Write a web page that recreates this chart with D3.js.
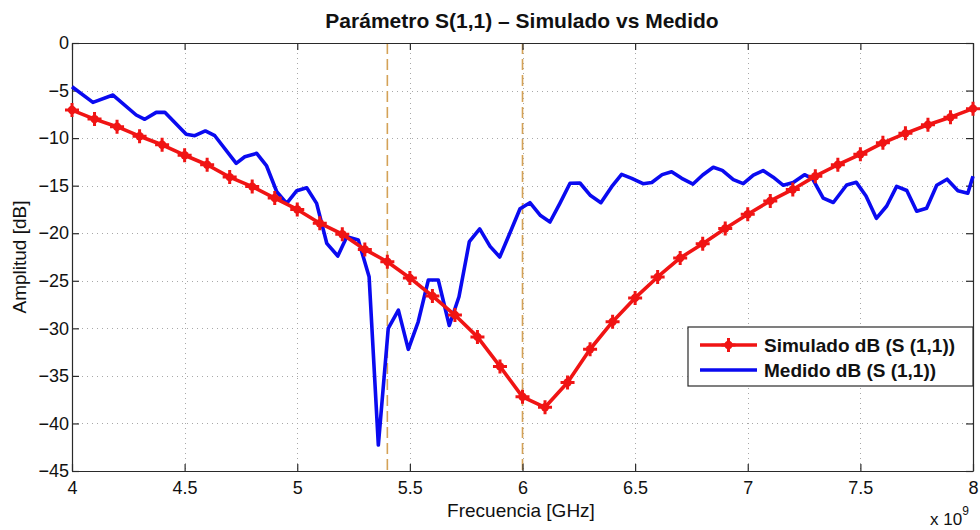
<!DOCTYPE html>
<html>
<head>
<meta charset="utf-8">
<script src="https://cdn.jsdelivr.net/npm/d3@7"></script>
<style>
  html, body { margin: 0; padding: 0; background: #fff; }
  svg { display: block; font-family: "Liberation Sans", Arial, Helvetica, sans-serif; }
</style>
</head>
<body>
<svg id="chart" width="980" height="530"></svg>
<script>
// ---------------- DATA ----------------
const title = "Parámetro S(1,1) – Simulado vs Medido";
const xLabel = "Frecuencia [GHz]";
const yLabel = "Amplitud [dB]";
const seriesNames = ["Simulado dB (S (1,1))", "Medido dB (S (1,1))"];

const xTicks = [4, 4.5, 5, 5.5, 6, 6.5, 7, 7.5, 8];
const xTickLabels = ["4", "4.5", "5", "5.5", "6", "6.5", "7", "7.5", "8"];
const yTicks = [0, -5, -10, -15, -20, -25, -30, -35, -40, -45];
const yTickLabels = ["0", "\u22125", "\u221210", "\u221215", "\u221220", "\u221225", "\u221230", "\u221235", "\u221240", "\u221245"];
const markerLines = [5.4, 6.0];

// Simulated (GHz)
const simFreq = [4.0, 4.1, 4.2, 4.3, 4.4, 4.5, 4.6, 4.7, 4.8, 4.9,
                 5.0, 5.1, 5.2, 5.3, 5.4, 5.5, 5.6, 5.7, 5.8, 5.9,
                 6.0, 6.1, 6.2, 6.3, 6.4, 6.5, 6.6, 6.7, 6.8, 6.9,
                 7.0, 7.1, 7.2, 7.3, 7.4, 7.5, 7.6, 7.7, 7.8, 7.9, 8.0];
const simDb = [-7.05, -8.0, -8.8, -9.8, -10.7, -11.8, -12.8, -14.1, -15.1, -16.3,
               -17.5, -18.95, -20.1, -21.7, -23.0, -24.7, -26.6, -28.6, -30.9, -34.0,
               -37.2, -38.3, -35.7, -32.2, -29.3, -26.8, -24.6, -22.6, -21.1, -19.5,
               -18.0, -16.6, -15.4, -14.0, -12.8, -11.7, -10.5, -9.5, -8.6, -7.8, -6.9];

// Measured (GHz)
const measFreq = [4.000, 4.093, 4.182, 4.285, 4.323, 4.374, 4.412, 4.507, 4.545, 4.592,
                  4.634, 4.729, 4.767, 4.820, 4.864, 4.909, 4.953, 4.998, 5.042, 5.086,
                  5.131, 5.180, 5.220, 5.271, 5.319, 5.360, 5.404, 5.449, 5.493, 5.537,
                  5.582, 5.626, 5.675, 5.718, 5.764, 5.810, 5.856, 5.899, 5.945, 5.989,
                  6.033, 6.080, 6.122, 6.166, 6.211, 6.255, 6.302, 6.348, 6.396, 6.440,
                  6.485, 6.535, 6.574, 6.620, 6.662, 6.707, 6.757, 6.800, 6.847, 6.887,
                  6.936, 6.980, 7.025, 7.068, 7.113, 7.158, 7.202, 7.252, 7.288, 7.335,
                  7.380, 7.439, 7.482, 7.525, 7.571, 7.617, 7.661, 7.706, 7.750, 7.794,
                  7.839, 7.885, 7.933, 7.977, 8.000];
const measDb = [-4.60, -6.24, -5.47, -7.57, -8.02, -7.29, -7.29, -9.60, -9.75, -9.25,
                -9.75, -12.65, -11.96, -11.60, -12.93, -15.64, -16.86, -15.53, -15.22, -16.86,
                -21.06, -22.40, -20.37, -20.71, -24.57, -42.27, -30.00, -28.08, -32.21, -29.31,
                -24.92, -24.92, -29.70, -26.68, -20.89, -19.54, -21.38, -22.50, -19.93, -17.43,
                -16.79, -18.14, -18.82, -16.86, -14.75, -14.72, -16.04, -16.79, -15.11, -13.81,
                -14.23, -14.79, -14.67, -13.84, -13.53, -14.23, -14.83, -13.88, -13.07, -13.39,
                -14.37, -14.79, -13.88, -13.41, -14.11, -14.96, -14.67, -13.85, -14.28, -16.30,
                -16.77, -14.93, -14.65, -16.09, -18.43, -17.14, -15.07, -15.51, -17.69, -17.38,
                -14.96, -14.32, -15.53, -15.80, -14.00];

// ---------------- CHART ----------------
const svg = d3.select("#chart");
const L = 72, R = 973, T = 43, B = 471;
const x = d3.scaleLinear().domain([4, 8]).range([L, R]);
const y = d3.scaleLinear().domain([-45, 0]).range([B, T]);

const red = "#f01414", blue = "#0a0af0", dashCol = "#d4a257";
const FONT = '"Liberation Sans", Arial, Helvetica, sans-serif';

svg.append("rect").attr("x", 0).attr("y", 0).attr("width", 980).attr("height", 530).attr("fill", "#fff");

// grid
const grid = svg.append("g").attr("stroke", "#a8a8a8").attr("stroke-width", 1).attr("stroke-dasharray", "1,4");
grid.selectAll(".gx").data(xTicks.slice(1, -1)).join("line")
  .attr("x1", d => Math.round(x(d)) + 0.5).attr("x2", d => Math.round(x(d)) + 0.5)
  .attr("y1", T).attr("y2", B);
grid.selectAll(".gy").data(yTicks.slice(1, -1)).join("line")
  .attr("y1", d => Math.round(y(d)) + 0.5).attr("y2", d => Math.round(y(d)) + 0.5)
  .attr("x1", L).attr("x2", R);

// marker vertical dashed lines
svg.append("g").selectAll("line").data(markerLines).join("line")
  .attr("x1", d => x(d)).attr("x2", d => x(d)).attr("y1", T).attr("y2", B)
  .attr("stroke", dashCol).attr("stroke-width", 1.6).attr("stroke-dasharray", "11,5");

// axes
const fmtX = (d) => xTickLabels[xTicks.indexOf(d)];
const fmtY = (d) => yTickLabels[yTicks.indexOf(d)];
const axB = svg.append("g").attr("transform", `translate(0,${B})`)
  .call(d3.axisBottom(x).tickValues(xTicks).tickFormat(fmtX).tickSizeInner(-7).tickSizeOuter(0).tickPadding(10));
const axL = svg.append("g").attr("transform", `translate(${L},0)`)
  .call(d3.axisLeft(y).tickValues(yTicks).tickFormat(fmtY).tickSizeInner(-7).tickSizeOuter(0).tickPadding(3));
const axT = svg.append("g").attr("transform", `translate(0,${T})`)
  .call(d3.axisTop(x).tickValues(xTicks).tickFormat("").tickSizeInner(-7).tickSizeOuter(0));
const axR = svg.append("g").attr("transform", `translate(${R},0)`)
  .call(d3.axisRight(y).tickValues(yTicks).tickFormat("").tickSizeInner(-7).tickSizeOuter(0));
[axB, axL, axT, axR].forEach(g => {
  g.selectAll("path.domain").attr("stroke", "#2a2a2a").attr("stroke-width", 1.2);
  g.selectAll(".tick line").attr("stroke", "#2a2a2a").attr("stroke-width", 1.2);
  g.selectAll(".tick text").attr("fill", "#111").attr("font-size", 18).attr("font-family", FONT);
});

// series
const simData = simFreq.map((f, i) => ({ f, v: simDb[i] }));
const measData = measFreq.map((f, i) => ({ f, v: measDb[i] }));
const line = d3.line().x(d => x(d.f)).y(d => y(d.v));

svg.append("path").datum(measData).attr("d", line)
  .attr("fill", "none").attr("stroke", blue).attr("stroke-width", 3.6).attr("stroke-linejoin", "round");
svg.append("path").datum(simData).attr("d", line)
  .attr("fill", "none").attr("stroke", red).attr("stroke-width", 3.6).attr("stroke-linejoin", "round");

function drawMarker(g, cx, cy) {
  g.append("circle").attr("cx", cx).attr("cy", cy).attr("r", 4.2).attr("fill", red);
  g.append("path")
    .attr("d", `M${cx - 7},${cy}H${cx + 7}M${cx},${cy - 7}V${cy + 7}`)
    .attr("stroke", red).attr("stroke-width", 3).attr("fill", "none");
}
const mk = svg.append("g");
simData.forEach(d => drawMarker(mk, x(d.f), y(d.v)));

// title & labels
svg.append("text").attr("x", 522).attr("y", 28).attr("text-anchor", "middle")
  .attr("font-size", 21).attr("font-weight", "bold").attr("fill", "#111").text(title);
svg.append("text").attr("x", 521).attr("y", 517).attr("text-anchor", "middle")
  .attr("font-size", 19).attr("fill", "#111").text(xLabel);
svg.append("text").attr("transform", "translate(26,257) rotate(-90)").attr("text-anchor", "middle")
  .attr("font-size", 19).attr("fill", "#111").text(yLabel);
const ex = svg.append("text").attr("x", 930).attr("y", 525).attr("font-size", 17).attr("fill", "#111");
ex.append("tspan").text("x 10");
ex.append("tspan").attr("dy", -10).attr("font-size", 12).text("9");

// legend
const lg = svg.append("g");
lg.append("rect").attr("x", 688).attr("y", 327).attr("width", 285).attr("height", 59)
  .attr("fill", "#fff").attr("stroke", "#2a2a2a").attr("stroke-width", 1.2);
const legendRows = [{ name: seriesNames[0], color: red, marker: true, yy: 345 },
                    { name: seriesNames[1], color: blue, marker: false, yy: 370 }];
legendRows.forEach(r => {
  lg.append("line").attr("x1", 700).attr("x2", 757).attr("y1", r.yy).attr("y2", r.yy)
    .attr("stroke", r.color).attr("stroke-width", 3.6);
  if (r.marker) drawMarker(lg, 728.5, r.yy);
  lg.append("text").attr("x", 764).attr("y", r.yy).attr("dy", "0.36em")
    .attr("font-size", 19).attr("font-weight", "bold").attr("fill", "#111").text(r.name);
});
</script>
</body>
</html>
